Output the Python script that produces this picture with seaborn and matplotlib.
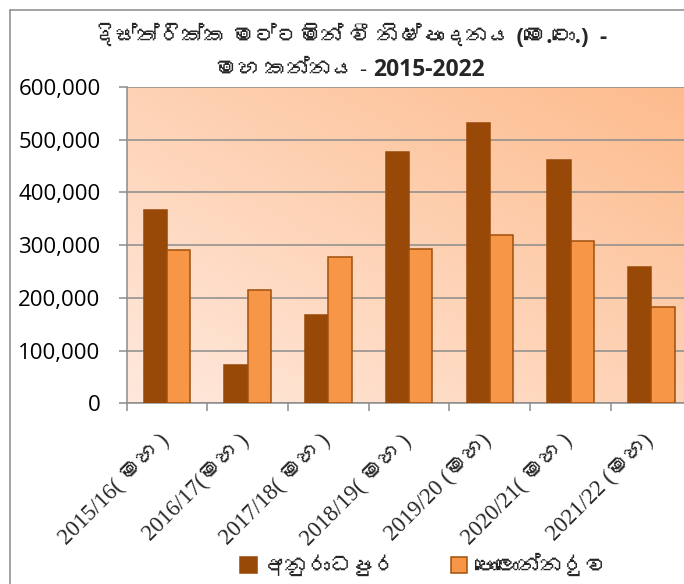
import numpy as np
import pandas as pd
import matplotlib
matplotlib.use("Agg")
import matplotlib.pyplot as plt
import seaborn as sns
from matplotlib import font_manager
from matplotlib.lines import Line2D
from matplotlib.patches import Patch
from matplotlib.ticker import FuncFormatter
from matplotlib.transforms import ScaledTranslation

# data (metric tons)
seasons = ['2015/16( මහ )', '2016/17(මහ )', '2017/18( මහ )', '2018/19( මහ )',
           '2019/20 (මහ)', '2020/21( මහ )', '2021/22 (මහ)']
districts = ['අනුරාධපුර', 'පොලොන්නරුව']
anuradhapura = [366000, 72000, 168000, 476000, 531000, 461000, 259000]
polonnaruwa = [291000, 214000, 277000, 292000, 319000, 307000, 182000]
bar_colors = ['#984807', '#F79646']
edge_colors = ['#984807', '#A0500C']

# the zero-width joiner is dropped: matplotlib can't shape it and draws a box
title_1 = 'දිස්ත්රික්ක මට්ටමින් වී නිෂ්පාදනය (මෙ.ටො.)  -'
title_2a = 'මහ කන්නය - '
title_2b = '2015-2022'


# look for any installed font that has Sinhala glyphs
def sinhala_family():
    try:
        from fontTools.ttLib import TTFont
    except ImportError:
        return None
    for fe in font_manager.fontManager.ttflist:
        try:
            cmap = TTFont(fe.fname, fontNumber=0, lazy=True).getBestCmap()
            if cmap and 0x0DB8 in cmap:
                return fe.name
        except Exception:
            continue
    return None


sns.set_style("white")
sin = sinhala_family()
sans = ['Open Sans'] + ([sin] if sin else []) + ['DejaVu Sans']
serif = ['Liberation Serif'] + ([sin] if sin else []) + ['DejaVu Sans']
plt.rcParams['font.family'] = sans

W, H = 684, 584
fig = plt.figure(figsize=(W / 100, H / 100), dpi=100)
pos = [126.7 / W, (H - 403.3) / H, 564.9 / W, 316.3 / H]

# gradient plot background
bg = fig.add_axes(pos, zorder=0)
light = np.array([255, 233, 221]) / 255
dark = np.array([253, 187, 140]) / 255
u = np.linspace(0, 1, 256)
gx, gy = np.meshgrid(u, u)
s = (gx + gy) / 2
bg.imshow(light + (dark - light) * s[..., None], origin='lower', aspect='auto',
          extent=[0, 1, 0, 1])
bg.axis('off')

ax = fig.add_axes(pos, zorder=1)
ax.set_facecolor('none')

df = pd.DataFrame({
    'season': seasons * 2,
    'district': [districts[0]] * len(seasons) + [districts[1]] * len(seasons),
    'value': anuradhapura + polonnaruwa,
})
sns.barplot(data=df, x='season', y='value', hue='district', hue_order=districts,
            order=seasons, palette=bar_colors, saturation=1, width=0.578,
            legend=False, ax=ax, zorder=3)
for cont, ec in zip(ax.containers, edge_colors):
    for p in cont:
        p.set_edgecolor(ec)
        p.set_linewidth(1.1)

ax.set_ylim(0, 600000)
ax.set_xlim(-0.5, 6.5)
ax.set_yticks(np.arange(0, 600001, 100000))
ax.yaxis.set_major_formatter(FuncFormatter(lambda v, p: f'{int(v):,}'))
ax.yaxis.grid(True, color='#8c8c8c', lw=1.1)
ax.set_axisbelow(True)
ax.set_xlabel('')
ax.set_ylabel('')

for side in ['top', 'right']:
    ax.spines[side].set_visible(False)
for side in ['left', 'bottom']:
    ax.spines[side].set_color('#8c8c8c')
    ax.spines[side].set_linewidth(1.1)

ax.tick_params(axis='y', length=5.8, width=1.1, color='#8c8c8c', pad=13,
               labelsize=16, labelcolor='black', left=True)

ax.set_xticks(np.arange(-0.5, 7.0, 1.0))
ax.set_xticklabels([])
ax.set_xticks(range(len(seasons)), minor=True)
ax.set_xticklabels(seasons, minor=True)
ax.tick_params(axis='x', which='major', length=5.8, width=1.1, color='#8c8c8c', bottom=True)
ax.tick_params(axis='x', which='minor', length=0, pad=25, bottom=True)
shift = ScaledTranslation(-1 / 100, 0, fig.dpi_scale_trans)
for lab in ax.get_xticklabels(minor=True):
    lab.set_rotation(45)
    lab.set_rotation_mode('anchor')
    lab.set_ha('right')
    lab.set_va('center')
    lab.set_fontsize(16.5)
    lab.set_family(serif)
    lab.set_transform(lab.get_transform() + shift)

# chart frame (cut off at right and bottom)
fig.add_artist(Line2D([9.5 / W, 9.5 / W], [0, 1 - 9.5 / H], transform=fig.transFigure,
                      color='#8a8a8a', lw=1.1))
fig.add_artist(Line2D([9.5 / W, 1], [1 - 9.5 / H, 1 - 9.5 / H], transform=fig.transFigure,
                      color='#8a8a8a', lw=1.1))

# title
cx = 350 / W
fig.text(cx, 1 - 36 / H, title_1, ha='center', va='center', fontsize=16,
         fontweight='bold')
t2a = fig.text(0, 1 - 70 / H, title_2a, ha='left', va='center', fontsize=16)
t2b = fig.text(0, 1 - 70 / H, title_2b, ha='left', va='center', fontsize=16.5,
               fontweight='bold')
r = fig.canvas.get_renderer()
wa = t2a.get_window_extent(r).width / W
wb = t2b.get_window_extent(r).width / W
t2a.set_x(cx - (wa + wb) / 2)
t2b.set_x(cx - (wa + wb) / 2 + wa)

handles = [Patch(facecolor=c, edgecolor=e, lw=1.1) for c, e in zip(bar_colors, edge_colors)]
fig.legend(handles, districts, loc='center', bbox_to_anchor=(424 / W, 1 - 566 / H),
           ncol=2, frameon=False, fontsize=16, handlelength=0.75, handleheight=0.75,
           handletextpad=0.3, columnspacing=2.4)

fig.savefig('out.png', dpi=100)
